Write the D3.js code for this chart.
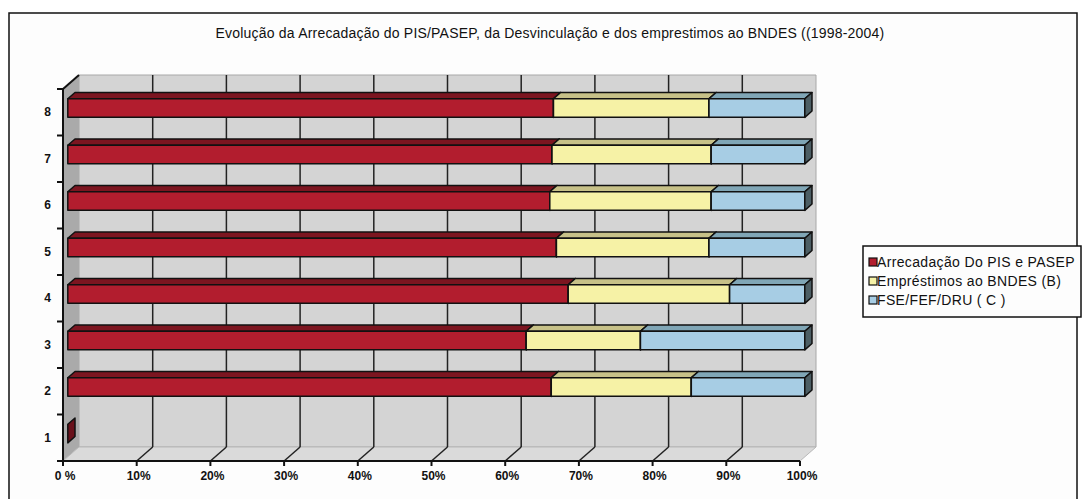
<!DOCTYPE html>
<html>
<head>
<meta charset="utf-8">
<script src="https://cdn.jsdelivr.net/npm/d3@7"></script>
<style>
  body { margin: 0; background: #fff; }
  svg text { font-family: "Liberation Sans", Arial, sans-serif; fill: #111; }
</style>
</head>
<body>
<svg id="chart"></svg>
<script>
// categories bottom to top, values are shares in % of each bar
const categories = ["1", "2", "3", "4", "5", "6", "7", "8"];
const seriesNames = ["Arrecadação Do PIS e PASEP", "Empréstimos ao BNDES (B)", "FSE/FEF/DRU ( C )"];
const arrecadacao = [0, 65.6, 62.2, 67.9, 66.3, 65.4, 65.7, 65.9];
const emprestimos = [0, 19.0, 15.5, 21.9, 20.7, 21.9, 21.6, 21.1];
const fse = [0, 15.4, 22.3, 10.2, 13.0, 12.7, 12.7, 13.0];
const xTicks = [0, 10, 20, 30, 40, 50, 60, 70, 80, 90, 100];
const xTickLabels = ["0 %", "10%", "20%", "30%", "40%", "50%", "60%", "70%", "80%", "90%", "100%"];
const chartTitle = "Evolução da Arrecadação do PIS/PASEP, da Desvinculação e dos emprestimos ao BNDES ((1998-2004)";

function draw() {
  let width = 1082;
  let height = 499;

  let colors = [
    { front: "#b21d2e", top: "#7c1520", side: "#6a111b" },
    { front: "#f6f2a6", top: "#c7c188", side: "#8f8a5c" },
    { front: "#a7cde4", top: "#80a6b6", side: "#4c5e64" },
  ];

  let svg = d3.select("#chart").attr("width", width).attr("height", height);

  // outer frame
  svg.append("rect")
    .attr("x", 9).attr("y", 13)
    .attr("width", 1068).attr("height", 500)
    .attr("fill", "#fdfdfd")
    .attr("stroke", "#111").attr("stroke-width", 1.5);

  svg.append("text")
    .attr("x", 550).attr("y", 38)
    .attr("text-anchor", "middle")
    .style("font-size", "14px")
    .style("letter-spacing", "0.2px")
    .text(chartTitle);

  // plot geometry (front plane) and depth vector
  let pL = 63, pR = 800, pT = 89, pB = 461;
  let depth = [16, -14];

  let x = d3.scaleLinear().domain([0, 100]).range([pL, pR]);
  let y = d3.scaleBand()
    .domain(categories)
    .range([pB, pT])
    .paddingInner(0.6)
    .paddingOuter(0.3);

  let pt = (p) => p.map((d) => d.join(",")).join(" ");

  // walls
  let g = svg.append("g");
  g.append("polygon") // back wall
    .attr("points", pt([[pL + depth[0], pT + depth[1]], [pR + depth[0], pT + depth[1]],
      [pR + depth[0], pB + depth[1]], [pL + depth[0], pB + depth[1]]]))
    .attr("fill", "#d4d4d4").attr("stroke", "#a8a8a8").attr("stroke-width", 1);
  g.append("polygon") // side wall
    .attr("points", pt([[pL, pT], [pL + depth[0], pT + depth[1]],
      [pL + depth[0], pB + depth[1]], [pL, pB]]))
    .attr("fill", "#aaaaaa");
  g.append("polygon") // floor
    .attr("points", pt([[pL, pB], [pR, pB],
      [pR + depth[0], pB + depth[1]], [pL + depth[0], pB + depth[1]]]))
    .attr("fill", "#dadada").attr("stroke", "#b8b8b8").attr("stroke-width", 1);

  // gridlines on back wall and floor
  let grid = xTicks.filter((d) => d > 0 && d < 100);
  g.selectAll(".vgrid").data(grid).join("line")
    .attr("x1", (d) => x(d) + depth[0]).attr("x2", (d) => x(d) + depth[0])
    .attr("y1", pT + depth[1]).attr("y2", pB + depth[1])
    .attr("stroke", "#222").attr("stroke-width", 1.5);
  g.selectAll(".fgrid").data(grid).join("line")
    .attr("x1", (d) => x(d)).attr("x2", (d) => x(d) + depth[0])
    .attr("y1", pB).attr("y2", pB + depth[1])
    .attr("stroke", "#222").attr("stroke-width", 1.5);

  // bars
  let series = [arrecadacao, emprestimos, fse];
  let off = [depth[0] * 0.3, depth[1] * 0.3];
  let bd = [depth[0] * 0.45, depth[1] * 0.45];
  let bh = y.bandwidth();

  let segs = [];
  categories.forEach((c, i) => {
    let acc = 0;
    series.forEach((s, k) => {
      let v = s[i];
      if (v > 0 || k === 0) segs.push({ cat: c, k: k, x0: acc, x1: acc + v });
      acc += v;
    });
  });

  let barG = svg.append("g")
    .attr("stroke", "#111").attr("stroke-width", 1.5).attr("stroke-linejoin", "round");

  segs.forEach((s) => {
    let x0 = x(s.x0) + off[0], x1 = x(s.x1) + off[0];
    let y0 = y(s.cat) + off[1], y1 = y0 + bh;
    let c = colors[s.k];
    if (x1 - x0 > 0) {
      barG.append("polygon")
        .attr("points", pt([[x0, y0], [x1, y0], [x1 + bd[0], y0 + bd[1]], [x0 + bd[0], y0 + bd[1]]]))
        .attr("fill", c.top);
      barG.append("rect")
        .attr("x", x0).attr("y", y0).attr("width", x1 - x0).attr("height", bh)
        .attr("fill", c.front);
    }
    barG.append("polygon")
      .attr("points", pt([[x1, y0], [x1 + bd[0], y0 + bd[1]], [x1 + bd[0], y1 + bd[1]], [x1, y1]]))
      .attr("fill", c.side);
  });

  // axes
  let ax = svg.append("g").attr("stroke", "#111").attr("stroke-width", 2);
  ax.append("line").attr("x1", pL).attr("x2", pL).attr("y1", pT).attr("y2", pB);
  ax.append("line").attr("x1", pL).attr("x2", pL + depth[0]).attr("y1", pT).attr("y2", pT + depth[1]);
  ax.append("line").attr("x1", pL).attr("x2", pR).attr("y1", pB).attr("y2", pB);

  let yBounds = d3.range(categories.length + 1).map((i) => pB - i * (pB - pT) / categories.length);
  ax.selectAll(".yt").data(yBounds).join("line")
    .attr("x1", pL - 6).attr("x2", pL).attr("y1", (d) => d).attr("y2", (d) => d);
  ax.selectAll(".xt").data(xTicks).join("line")
    .attr("x1", (d) => x(d)).attr("x2", (d) => x(d)).attr("y1", pB).attr("y2", pB + 5);

  svg.selectAll(".ylab").data(categories).join("text")
    .attr("x", 51).attr("y", (d) => y(d) + bh / 2 + 4)
    .attr("text-anchor", "end")
    .style("font-size", "12px").style("font-weight", "bold")
    .text((d) => d);

  svg.selectAll(".xlab").data(xTicks).join("text")
    .attr("x", (d) => x(d) + 2).attr("y", 480)
    .attr("text-anchor", "middle")
    .style("font-size", "12px").style("font-weight", "bold")
    .text((d, i) => xTickLabels[i]);

  // legend
  let leg = svg.append("g").attr("transform", "translate(863,246)");
  leg.append("rect").attr("width", 218).attr("height", 71)
    .attr("fill", "#fdfdfd").attr("stroke", "#111").attr("stroke-width", 1.5);
  let items = leg.selectAll(".li").data(seriesNames).join("g")
    .attr("transform", (d, i) => `translate(6,${16 + i * 19})`);
  items.append("rect").attr("x", 0).attr("y", -4).attr("width", 8).attr("height", 8)
    .attr("fill", (d, i) => colors[i].front).attr("stroke", "#111").attr("stroke-width", 1.2);
  items.append("text").attr("x", 8).attr("y", 0).attr("dy", "0.36em")
    .style("font-size", "14px")
    .style("letter-spacing", "0.35px")
    .text((d) => d);
}

draw();
</script>
</body>
</html>
